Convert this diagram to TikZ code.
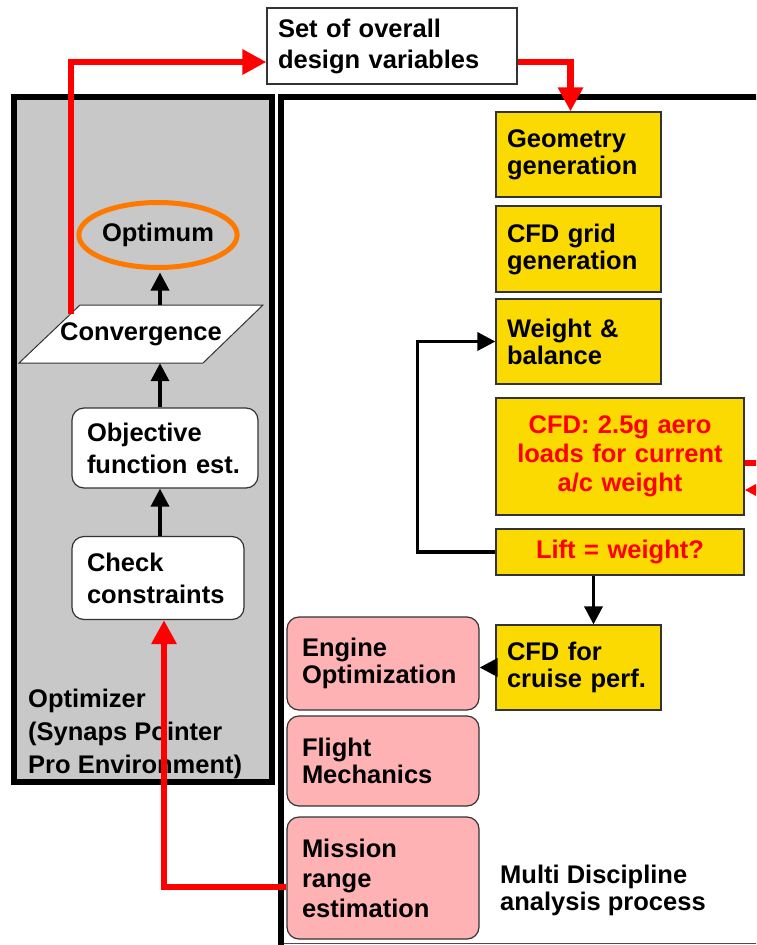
\documentclass[tikz,border=0pt]{standalone}
\usepackage{fontspec}
\setmainfont{Liberation Sans}
\usetikzlibrary{arrows.meta,shapes.geometric,calc}

\definecolor{boxyellow}{RGB}{250,218,0}
\definecolor{boxpink}{RGB}{255,178,180}
\definecolor{optgray}{RGB}{200,200,200}
\definecolor{optorange}{RGB}{255,120,0}
\newcommand{\diagfont}[1]{\fontsize{25.5}{#1}\selectfont\bfseries}

\begin{document}
\begin{tikzpicture}[x=1pt, y=-1pt, line join=miter,
        every node/.style={font=\diagfont{27}, inner ysep=2pt},
        setbox/.style={draw=black!80, line width=1.2pt, fill=white, inner xsep=11pt, text width=228pt, minimum height=76pt, align=left, font=\diagfont{31}},
        yellowbox/.style={draw=black!80, line width=1.2pt, fill=boxyellow, inner xsep=11pt, text width=143pt, minimum height=85pt, align=left},
        aerobox/.style={yellowbox, text width=226pt, align=center, text=red},
        pinkbox/.style={draw=black!80, line width=1.2pt, fill=boxpink, rounded corners=12pt, inner xsep=15pt, text width=162pt, align=left},
        optbox/.style={draw=black!80, line width=1.2pt, fill=white, rounded corners=12pt, inner xsep=15pt, align=left, font=\diagfont{32}},
        blkarrow/.style={line width=3.5pt, -{Triangle[length=18pt,width=18pt]}},
        redline/.style={draw=red, line width=6.5pt},
        redarrow/.style={redline, -{Triangle[length=24pt,width=24pt]}}]
    \clip (0,0) rectangle (756,945);

    % Rahmen: Optimizer und Analyseprozess
    \filldraw[fill=optgray, line width=6pt] (14,97) rectangle (272,782);
    \draw[line width=1pt, black!70] (281,943) -- (770,943);
    \draw[line width=5.5pt] (281,950) |- (770,97);

    % Entwurfsvariablen
    \node[setbox] (setvars) at (392,46) {Set of overall\\design variables};

    % Analysekette (gelb)
    \node[yellowbox] (geom) at (578.5,154.5) {Geometry\\generation};
    \node[yellowbox, minimum height=86pt] (grid) at (578.5,249) {CFD grid\\generation};
    \node[yellowbox] (weight) at (578.5,341.5) {Weight \&\\balance};
    \node[aerobox, minimum height=117pt, font=\diagfont{29}] (aero) at (620,456.5) {CFD: 2.5g aero\\loads for current\\a/c weight};
    \node[aerobox, minimum height=46pt] (lift) at (620,552) {Lift = weight?};
    \node[yellowbox] (cruise) at (578.5,667.5) {CFD for\\cruise perf.};

    % Disziplinen (rosa)
    \node[pinkbox, minimum height=93pt] (engine) at (383,663.5) {Engine\\Optimization};
    \node[pinkbox, minimum height=90pt] (flight) at (383,761) {Flight\\Mechanics};
    \node[pinkbox, minimum height=122pt, font=\diagfont{30}] (mission) at (383,878) {Mission\\range\\estimation};

    % Optimizer
    \node[ellipse, draw=optorange, line width=5pt, minimum width=152pt, minimum height=65pt, inner sep=0pt] (optimum) at (158,235) {Optimum};
    \filldraw[draw=black!80, line width=1pt, fill=white] (80,305) -- (263,305) -- (203,363) -- (19,363) -- cycle;
    \node[minimum width=184pt, minimum height=58pt, inner sep=0pt] (conv) at (141,334) {Convergence};
    \node[optbox, text width=156pt, minimum height=80pt] (obj) at (165,448) {Objective\\function est.};
    \node[optbox, text width=142pt, minimum height=83pt] (check) at (158,578) {Check\\constraints};

    % Beschriftungen
    \node[anchor=north west, inner sep=0pt, align=left, font=\diagfont{33}] (optlabel) at (28,689) {Optimizer\\(Synaps Pointer\\Pro Environment)};
    \node[anchor=north west, inner sep=0pt, align=left] (mdalabel) at (500,865) {Multi Discipline\\analysis process};

    % Pfeile im Optimizer
    \coordinate (optaxis) at (160,0);
    \draw[blkarrow] (check.north -| optaxis) -- (obj.south -| optaxis);
    \draw[blkarrow] (obj.north -| optaxis) -- (conv.south -| optaxis);
    \draw[blkarrow, shorten >=2.5pt] (conv.north -| optaxis) -- (optimum.south -| optaxis);

    % Schleife Gewicht
    \draw[blkarrow] (lift.west) -- ++(-78,0) |- (weight.west);
    \coordinate (cruisein) at ($(cruise.north)+(15,0)$);
    \draw[blkarrow] (lift.south -| cruisein) -- (cruisein);
    \draw[blkarrow] (cruise.west) -- (cruise.west -| engine.east);

    % rote Verbindungen
    \coordinate (convout) at (71,314);
    \draw[redarrow] (convout) |- ($(setvars.west)+(0,16)$);
    \draw[redarrow] ($(setvars.east)+(0,16)$) -| ($(geom.north)+(-8,0)$);
    \draw[redarrow] ($(mission.west)+(0,9)$) -| ($(check.south)+(6,0)$);
    \coordinate (rightout1) at (770,463);
    \coordinate (rightout2) at (770,490);
    \draw[redline] (aero.east |- rightout1) -- (rightout1);
    \draw[redarrow] (rightout2) -- (aero.east |- rightout2);
\end{tikzpicture}
\end{document}
